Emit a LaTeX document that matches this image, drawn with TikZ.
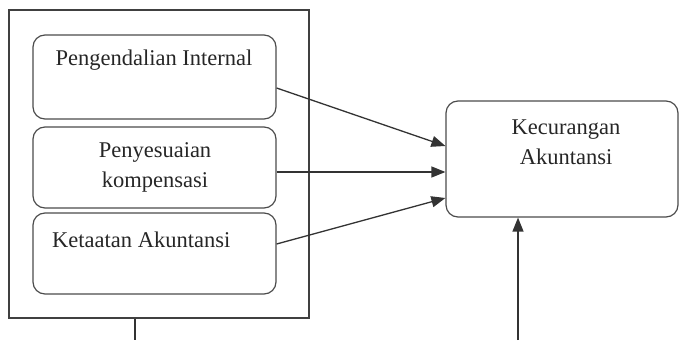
\documentclass[tikz,border=0pt]{standalone}
\usepackage{fontspec}
\setmainfont{Liberation Serif}
\usetikzlibrary{arrows.meta}
\begin{document}
\begin{tikzpicture}[x=1pt,y=-1pt,
  box/.style={draw=black!70,line width=1.2pt,rounded corners=12pt,inner sep=0pt},
  frame/.style={draw=black!75,line width=1.2pt,inner sep=0pt},
  lbl/.style={font=\fontsize{22.5}{30}\selectfont,text=black!85,align=center,inner sep=0pt},
  conn/.style={draw=black!80,line width=1.3pt,-{Triangle[length=14pt,width=11pt]}},
  plain/.style={draw=black!80,line width=1.3pt}]
\useasboundingbox (0,0) rectangle (679,340);
\node[frame,minimum width=300pt,minimum height=308pt] (outer) at (159,164) {};
\node[box,minimum width=243pt,minimum height=84pt] (b1) at (154.5,77) {};
\node[box,minimum width=243pt,minimum height=81pt] (b2) at (154.5,167.5) {};
\node[box,minimum width=243pt,minimum height=81pt] (b3) at (154.5,253.5) {};
\node[box,minimum width=232pt,minimum height=116pt] (tgt) at (562,159) {};
\node[lbl] (t1) at (154,60) {Pengendalian Internal};
\node[lbl] (t2) at (155,167) {Penyesuaian\\kompensasi};
\node[lbl,anchor=west] (t3) at (52,240) {Ketaatan Akuntansi};
\node[lbl] (t4) at (566,142) {Kecurangan\\Akuntansi};
\coordinate (bl) at (135,340);
\coordinate (br) at (518,340);
\draw[conn] ([yshift=-11pt]b1.east) -- ([yshift=13pt]tgt.west);
\draw[conn] ([yshift=-4.5pt]b2.east) -- ([yshift=-13pt]tgt.west);
\draw[conn] ([yshift=9.5pt]b3.east) -- ([yshift=-39pt]tgt.west);
\draw[conn] (br) -- ([xshift=-44pt]tgt.south);
\draw[plain] ([xshift=-24pt]outer.south) -- (bl);
\end{tikzpicture}
\end{document}
